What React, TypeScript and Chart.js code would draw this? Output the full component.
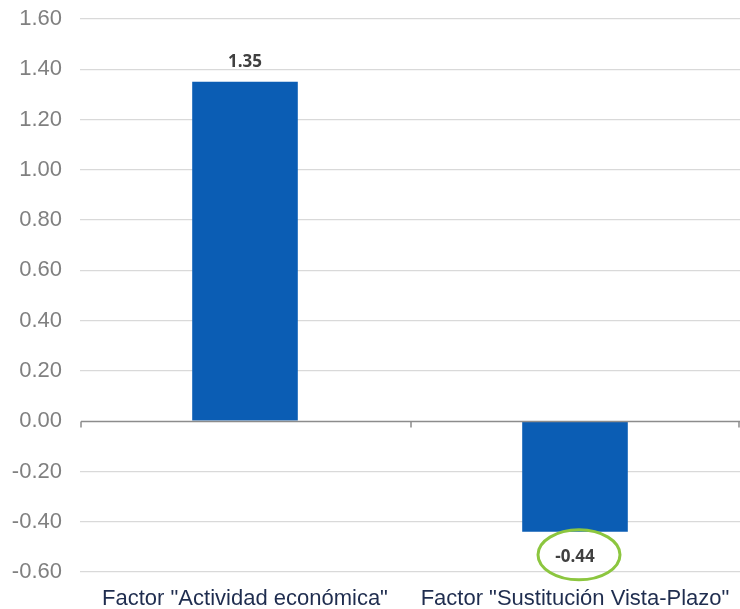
import React, { useEffect, useRef } from "react";
import { Chart, registerables } from "chart.js";

Chart.register(...registerables);

const categories = ['Factor "Actividad económica"', 'Factor "Sustitución Vista-Plazo"'];
const values = [1.35, -0.44];
const valueLabels = ["1.35", "-0.44"];
const yMin = -0.6;
const yMax = 1.6;
const yStep = 0.2;
const highlightIndex = 1;

const BAR_COLOR = "#0B5DB4";

const overlayPlugin = {
  id: "overlay",
  afterDatasetsDraw(chart: any) {
    const { ctx, chartArea, scales } = chart;
    const y = scales.y;
    const y0 = Math.round(y.getPixelForValue(0)) + 0.5;
    ctx.save();
    ctx.strokeStyle = "#8C8C8C";
    ctx.lineWidth = 1.5;
    ctx.beginPath();
    ctx.moveTo(chartArea.left + 1, y0);
    ctx.lineTo(chartArea.right, y0);
    const n = categories.length;
    const w = (chartArea.right - chartArea.left) / n;
    for (let i = 0; i <= n; i++) {
      let px = chartArea.left + 1 + i * w;
      if (i === n) px = chartArea.right - 1;
      ctx.moveTo(px, y0);
      ctx.lineTo(px, y0 + 6);
    }
    ctx.stroke();
    ctx.restore();

    const meta = chart.getDatasetMeta(0);
    ctx.save();
    ctx.font = "bold 17px 'Open Sans'";
    ctx.fillStyle = "#404040";
    ctx.textAlign = "center";
    ctx.textBaseline = "middle";
    meta.data.forEach((bar: any, i: number) => {
      const v = values[i];
      const ly = v >= 0 ? bar.y - 20 : bar.y + 25;
      ctx.fillText(valueLabels[i], bar.x, ly);
      if (i === highlightIndex) {
        ctx.strokeStyle = "#8CC63F";
        ctx.lineWidth = 3;
        ctx.beginPath();
        ctx.ellipse(bar.x + 4, ly - 2, 41, 25, 0, 0, Math.PI * 2);
        ctx.stroke();
      }
    });
    ctx.restore();
  },
};

export default function App() {
  const ref = useRef<HTMLCanvasElement>(null);
  useEffect(() => {
    document.body.style.margin = "0";
    const chart = new Chart(ref.current!, {
      type: "bar",
      data: {
        labels: categories,
        datasets: [
          {
            data: values,
            backgroundColor: BAR_COLOR,
            categoryPercentage: 1,
            barPercentage: 0.32,
          },
        ],
      },
      options: {
        animation: false,
        responsive: false,
        layout: { padding: { top: 19, left: 0, right: 0, bottom: 0 } },
        plugins: { legend: { display: false }, tooltip: { enabled: false } },
        scales: {
          x: {
            grid: { display: false, drawTicks: false },
            border: { display: false },
            ticks: {
              color: "#1F2D4F",
              font: { family: "'Liberation Sans', Arial", size: 22 },
              padding: 14,
              maxRotation: 0,
              autoSkip: false,
            },
            afterFit(scale: any) {
              scale.height = 37;
              scale.paddingLeft = 0;
              scale.paddingRight = 0;
            },
          },
          y: {
            min: yMin,
            max: yMax,
            grid: {
              drawTicks: false,
              color: (c: any) => (c.tick && Math.abs(c.tick.value) < 1e-9 ? "rgba(0,0,0,0)" : "#D9D9D9"),
              lineWidth: 1.2,
            },
            border: { display: false },
            ticks: {
              stepSize: yStep,
              color: "#808080",
              font: { family: "'Liberation Sans', Arial", size: 22 },
              padding: 18,
              callback: (v: any) => Number(v).toFixed(2),
            },
            afterFit(scale: any) {
              scale.width = 80;
              scale.paddingTop = 0;
              scale.paddingBottom = 0;
            },
          },
        },
      },
      plugins: [overlayPlugin],
    });
    return () => chart.destroy();
  }, []);
  return (
    <div style={{ width: 740, height: 609 }}>
      <canvas ref={ref} width={740} height={609} />
    </div>
  );
}
